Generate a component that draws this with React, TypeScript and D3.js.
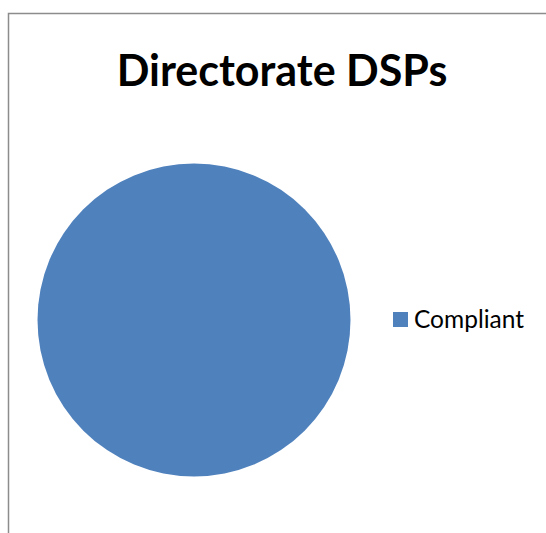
import React from "react";
import * as d3 from "d3";

const categories = ["Compliant"];
const values = [1];
const colors = ["#4F81BD"];
const title = "Directorate DSPs";

export default function App() {
  const W = 546, H = 533;
  const cx = 194, cy = 320, r = 156.5;
  const pie = d3.pie<number>().sort(null)(values);
  const arc = d3.arc<d3.PieArcDatum<number>>().innerRadius(0).outerRadius(r);
  return (
    <svg width={W} height={H} style={{ position: "absolute", left: 0, top: 0, background: "#fff" }}>
      <rect x={0} y={0} width={W} height={H} fill="#fff" />
      <path d={`M8.5,${H} V13.5 H${W}`} fill="none" stroke="#8c8c8c" strokeWidth={1.5} />
      <text x={282} y={86} textAnchor="middle" fontFamily="Lato, 'Open Sans', sans-serif" fontWeight="bold" fontSize={43} fill="#000">{title}</text>
      <g transform={`translate(${cx},${cy})`}>
        {pie.map((d, i) => (
          <path key={i} d={arc(d) || ""} fill={colors[i]} />
        ))}
      </g>
      {categories.map((c, i) => (
        <g key={c} transform={`translate(393,${312 + i * 30})`}>
          <rect x={0} y={0} width={15} height={15} fill={colors[i]} />
          <text x={21} y={16} fontFamily="Lato, 'Open Sans', sans-serif" fontSize={24.5} fill="#000">{c}</text>
        </g>
      ))}
    </svg>
  );
}
